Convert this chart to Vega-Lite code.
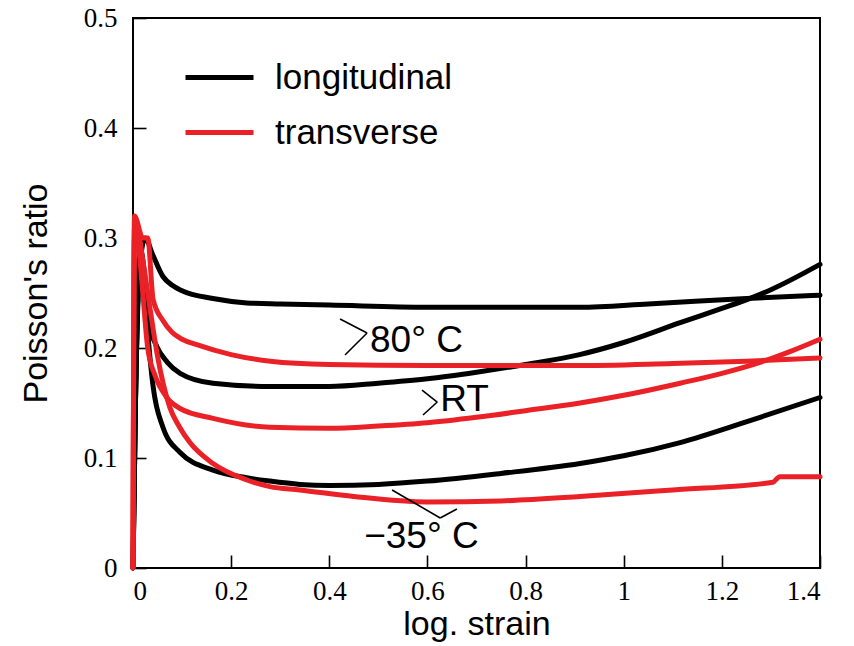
{
  "$schema": "https://vega.github.io/schema/vega-lite/v6.json",
  "width": 687,
  "height": 550,
  "autosize": {"type": "none"},
  "padding": {"left": 133, "top": 18, "right": 34, "bottom": 78},
  "background": "white",
  "datasets": {
    "curves": [
      {"x":0,"y":0,"dir":"longitudinal","curve":"L80"},{"x":0.005,"y":0.15,"dir":"longitudinal","curve":"L80"},{"x":0.015,"y":0.28,"dir":"longitudinal","curve":"L80"},{"x":0.025,"y":0.3,"dir":"longitudinal","curve":"L80"},{"x":0.04,"y":0.285,"dir":"longitudinal","curve":"L80"},{"x":0.061,"y":0.265,"dir":"longitudinal","curve":"L80"},{"x":0.08,"y":0.257,"dir":"longitudinal","curve":"L80"},{"x":0.1,"y":0.252,"dir":"longitudinal","curve":"L80"},{"x":0.163,"y":0.245,"dir":"longitudinal","curve":"L80"},{"x":0.232,"y":0.241,"dir":"longitudinal","curve":"L80"},{"x":0.3,"y":0.24,"dir":"longitudinal","curve":"L80"},{"x":0.4,"y":0.239,"dir":"longitudinal","curve":"L80"},{"x":0.6,"y":0.237,"dir":"longitudinal","curve":"L80"},{"x":0.8,"y":0.237,"dir":"longitudinal","curve":"L80"},{"x":0.91,"y":0.237,"dir":"longitudinal","curve":"L80"},{"x":1.05,"y":0.24,"dir":"longitudinal","curve":"L80"},{"x":1.25,"y":0.245,"dir":"longitudinal","curve":"L80"},{"x":1.4,"y":0.248,"dir":"longitudinal","curve":"L80"},
      {"x":0,"y":0,"dir":"longitudinal","curve":"LRT"},{"x":0.005,"y":0.15,"dir":"longitudinal","curve":"LRT"},{"x":0.015,"y":0.29,"dir":"longitudinal","curve":"LRT"},{"x":0.02,"y":0.28,"dir":"longitudinal","curve":"LRT"},{"x":0.031,"y":0.225,"dir":"longitudinal","curve":"LRT"},{"x":0.049,"y":0.201,"dir":"longitudinal","curve":"LRT"},{"x":0.07,"y":0.187,"dir":"longitudinal","curve":"LRT"},{"x":0.096,"y":0.177,"dir":"longitudinal","curve":"LRT"},{"x":0.163,"y":0.168,"dir":"longitudinal","curve":"LRT"},{"x":0.28,"y":0.165,"dir":"longitudinal","curve":"LRT"},{"x":0.4,"y":0.165,"dir":"longitudinal","curve":"LRT"},{"x":0.5,"y":0.168,"dir":"longitudinal","curve":"LRT"},{"x":0.6,"y":0.172,"dir":"longitudinal","curve":"LRT"},{"x":0.7,"y":0.178,"dir":"longitudinal","curve":"LRT"},{"x":0.8,"y":0.185,"dir":"longitudinal","curve":"LRT"},{"x":0.91,"y":0.194,"dir":"longitudinal","curve":"LRT"},{"x":1.0,"y":0.205,"dir":"longitudinal","curve":"LRT"},{"x":1.115,"y":0.223,"dir":"longitudinal","curve":"LRT"},{"x":1.2,"y":0.236,"dir":"longitudinal","curve":"LRT"},{"x":1.251,"y":0.244,"dir":"longitudinal","curve":"LRT"},{"x":1.3,"y":0.253,"dir":"longitudinal","curve":"LRT"},{"x":1.4,"y":0.276,"dir":"longitudinal","curve":"LRT"},
      {"x":0,"y":0,"dir":"longitudinal","curve":"L-35"},{"x":0.005,"y":0.15,"dir":"longitudinal","curve":"L-35"},{"x":0.015,"y":0.29,"dir":"longitudinal","curve":"L-35"},{"x":0.02,"y":0.275,"dir":"longitudinal","curve":"L-35"},{"x":0.028,"y":0.225,"dir":"longitudinal","curve":"L-35"},{"x":0.041,"y":0.165,"dir":"longitudinal","curve":"L-35"},{"x":0.061,"y":0.128,"dir":"longitudinal","curve":"L-35"},{"x":0.096,"y":0.105,"dir":"longitudinal","curve":"L-35"},{"x":0.163,"y":0.089,"dir":"longitudinal","curve":"L-35"},{"x":0.232,"y":0.082,"dir":"longitudinal","curve":"L-35"},{"x":0.279,"y":0.079,"dir":"longitudinal","curve":"L-35"},{"x":0.34,"y":0.076,"dir":"longitudinal","curve":"L-35"},{"x":0.4,"y":0.075,"dir":"longitudinal","curve":"L-35"},{"x":0.5,"y":0.076,"dir":"longitudinal","curve":"L-35"},{"x":0.6,"y":0.079,"dir":"longitudinal","curve":"L-35"},{"x":0.75,"y":0.086,"dir":"longitudinal","curve":"L-35"},{"x":0.911,"y":0.095,"dir":"longitudinal","curve":"L-35"},{"x":1.0,"y":0.102,"dir":"longitudinal","curve":"L-35"},{"x":1.115,"y":0.114,"dir":"longitudinal","curve":"L-35"},{"x":1.251,"y":0.133,"dir":"longitudinal","curve":"L-35"},{"x":1.4,"y":0.155,"dir":"longitudinal","curve":"L-35"},
      {"x":0,"y":0,"dir":"transverse","curve":"T80"},{"x":0.003,"y":0.32,"dir":"transverse","curve":"T80"},{"x":0.02,"y":0.3,"dir":"transverse","curve":"T80"},{"x":0.03,"y":0.3,"dir":"transverse","curve":"T80"},{"x":0.041,"y":0.244,"dir":"transverse","curve":"T80"},{"x":0.061,"y":0.225,"dir":"transverse","curve":"T80"},{"x":0.08,"y":0.214,"dir":"transverse","curve":"T80"},{"x":0.1,"y":0.208,"dir":"transverse","curve":"T80"},{"x":0.13,"y":0.203,"dir":"transverse","curve":"T80"},{"x":0.2,"y":0.194,"dir":"transverse","curve":"T80"},{"x":0.28,"y":0.188,"dir":"transverse","curve":"T80"},{"x":0.4,"y":0.185,"dir":"transverse","curve":"T80"},{"x":0.6,"y":0.184,"dir":"transverse","curve":"T80"},{"x":0.9,"y":0.184,"dir":"transverse","curve":"T80"},{"x":1.1,"y":0.186,"dir":"transverse","curve":"T80"},{"x":1.25,"y":0.188,"dir":"transverse","curve":"T80"},{"x":1.4,"y":0.191,"dir":"transverse","curve":"T80"},
      {"x":0,"y":0,"dir":"transverse","curve":"TRT"},{"x":0.003,"y":0.31,"dir":"transverse","curve":"TRT"},{"x":0.012,"y":0.29,"dir":"transverse","curve":"TRT"},{"x":0.02,"y":0.25,"dir":"transverse","curve":"TRT"},{"x":0.03,"y":0.2,"dir":"transverse","curve":"TRT"},{"x":0.045,"y":0.175,"dir":"transverse","curve":"TRT"},{"x":0.069,"y":0.155,"dir":"transverse","curve":"TRT"},{"x":0.096,"y":0.145,"dir":"transverse","curve":"TRT"},{"x":0.163,"y":0.136,"dir":"transverse","curve":"TRT"},{"x":0.279,"y":0.128,"dir":"transverse","curve":"TRT"},{"x":0.4,"y":0.127,"dir":"transverse","curve":"TRT"},{"x":0.5,"y":0.129,"dir":"transverse","curve":"TRT"},{"x":0.6,"y":0.132,"dir":"transverse","curve":"TRT"},{"x":0.7,"y":0.137,"dir":"transverse","curve":"TRT"},{"x":0.8,"y":0.143,"dir":"transverse","curve":"TRT"},{"x":0.911,"y":0.15,"dir":"transverse","curve":"TRT"},{"x":1.0,"y":0.157,"dir":"transverse","curve":"TRT"},{"x":1.115,"y":0.168,"dir":"transverse","curve":"TRT"},{"x":1.2,"y":0.177,"dir":"transverse","curve":"TRT"},{"x":1.278,"y":0.187,"dir":"transverse","curve":"TRT"},{"x":1.34,"y":0.197,"dir":"transverse","curve":"TRT"},{"x":1.4,"y":0.208,"dir":"transverse","curve":"TRT"},
      {"x":0,"y":0,"dir":"transverse","curve":"T-35"},{"x":0.003,"y":0.3,"dir":"transverse","curve":"T-35"},{"x":0.012,"y":0.3,"dir":"transverse","curve":"T-35"},{"x":0.02,"y":0.28,"dir":"transverse","curve":"T-35"},{"x":0.035,"y":0.235,"dir":"transverse","curve":"T-35"},{"x":0.049,"y":0.195,"dir":"transverse","curve":"T-35"},{"x":0.075,"y":0.146,"dir":"transverse","curve":"T-35"},{"x":0.095,"y":0.128,"dir":"transverse","curve":"T-35"},{"x":0.116,"y":0.114,"dir":"transverse","curve":"T-35"},{"x":0.163,"y":0.095,"dir":"transverse","curve":"T-35"},{"x":0.232,"y":0.08,"dir":"transverse","curve":"T-35"},{"x":0.279,"y":0.074,"dir":"transverse","curve":"T-35"},{"x":0.34,"y":0.071,"dir":"transverse","curve":"T-35"},{"x":0.45,"y":0.065,"dir":"transverse","curve":"T-35"},{"x":0.6,"y":0.06,"dir":"transverse","curve":"T-35"},{"x":0.75,"y":0.061,"dir":"transverse","curve":"T-35"},{"x":0.911,"y":0.065,"dir":"transverse","curve":"T-35"},{"x":1.1,"y":0.071,"dir":"transverse","curve":"T-35"},{"x":1.304,"y":0.078,"dir":"transverse","curve":"T-35"},{"x":1.318,"y":0.083,"dir":"transverse","curve":"T-35"},{"x":1.4,"y":0.083,"dir":"transverse","curve":"T-35"}
    ],
    "leaders": [
      {"x":0.422,"y":0.2264,"x2":0.477,"y2":0.2136},
      {"x":0.477,"y":0.2136,"x2":0.432,"y2":0.1936},
      {"x":0.589,"y":0.1618,"x2":0.62,"y2":0.1509},
      {"x":0.62,"y":0.1509,"x2":0.591,"y2":0.1391},
      {"x":0.528,"y":0.0709,"x2":0.626,"y2":0.0455},
      {"x":0.626,"y":0.0455,"x2":0.66,"y2":0.0536}
    ],
    "labels": [
      {"x":0.483,"y":0.206,"text":"80° C"},
      {"x":0.626,"y":0.1527,"text":"RT"},
      {"x":0.471,"y":0.028,"text":"−35° C"}
    ]
  },
  "layer": [
    {
      "data": {"name": "curves"},
      "mark": {"type": "line", "strokeWidth": 5, "strokeCap": "round", "strokeJoin": "round", "interpolate": "monotone"},
      "encoding": {
        "x": {"field": "x", "type": "quantitative", "scale": {"domain": [0, 1.4], "nice": false, "zero": false},
              "axis": {"orient": "bottom", "title": "log. strain", "values": [0,0.2,0.4,0.6,0.8,1,1.2,1.4], "format": "~g", "offset": -13, "tickSize": 13, "tickColor": "#000000", "tickWidth": 1.6, "labelPadding": 10, "titlePadding": 3}},
        "y": {"field": "y", "type": "quantitative", "scale": {"domain": [0, 0.5], "nice": false, "zero": false},
              "axis": {"orient": "left", "title": "Poisson's ratio", "values": [0,0.1,0.2,0.3,0.4,0.5], "format": "~g", "offset": -13, "tickSize": 13, "tickColor": "#000000", "tickWidth": 1.6, "labelPadding": 16, "titlePadding": 30}},
        "color": {"field": "dir", "type": "nominal", "scale": {"domain": ["longitudinal", "transverse"], "range": ["#000000", "#ea2227"]},
                  "legend": {"orient": "none", "legendX": 50, "legendY": 23, "title": null, "symbolType": "stroke", "symbolSize": 4624, "symbolStrokeWidth": 5, "labelFont": "Liberation Sans", "labelFontSize": 35, "labelColor": "#000000", "labelOffset": 19, "labelLimit": 400, "rowPadding": -11}},
        "detail": {"field": "curve", "type": "nominal"}
      }
    },
    {
      "data": {"name": "leaders"},
      "mark": {"type": "rule", "color": "#000000", "strokeWidth": 1.6},
      "encoding": {
        "x": {"field": "x", "type": "quantitative",
              "axis": {"orient": "bottom", "title": "log. strain", "values": [0,0.2,0.4,0.6,0.8,1,1.2,1.4], "format": "~g", "offset": -13, "tickSize": 13, "tickColor": "#000000", "tickWidth": 1.6, "labelPadding": 10, "titlePadding": 3}},
        "y": {"field": "y", "type": "quantitative",
              "axis": {"orient": "left", "title": "Poisson's ratio", "values": [0,0.1,0.2,0.3,0.4,0.5], "format": "~g", "offset": -13, "tickSize": 13, "tickColor": "#000000", "tickWidth": 1.6, "labelPadding": 16, "titlePadding": 30}},
        "x2": {"field": "x2"},
        "y2": {"field": "y2"}
      }
    },
    {
      "data": {"name": "labels"},
      "mark": {"type": "text", "align": "left", "baseline": "middle", "font": "Liberation Sans", "fontSize": 37, "color": "#000000"},
      "encoding": {
        "x": {"field": "x", "type": "quantitative",
              "axis": {"orient": "bottom", "title": "log. strain", "values": [0,0.2,0.4,0.6,0.8,1,1.2,1.4], "format": "~g", "offset": -13, "tickSize": 13, "tickColor": "#000000", "tickWidth": 1.6, "labelPadding": 10, "titlePadding": 3}},
        "y": {"field": "y", "type": "quantitative",
              "axis": {"orient": "left", "title": "Poisson's ratio", "values": [0,0.1,0.2,0.3,0.4,0.5], "format": "~g", "offset": -13, "tickSize": 13, "tickColor": "#000000", "tickWidth": 1.6, "labelPadding": 16, "titlePadding": 30}},
        "text": {"field": "text"}
      }
    }
  ],
  "config": {
    "view": {"stroke": "#000000", "strokeWidth": 2},
    "axis": {
      "grid": false,
      "domain": false,
      "labelFont": "Liberation Serif",
      "labelFontSize": 27,
      "labelColor": "#000000",
      "titleFont": "Liberation Sans",
      "titleFontSize": 34,
      "titleFontWeight": "normal",
      "titleColor": "#000000"
    }
  }
}
